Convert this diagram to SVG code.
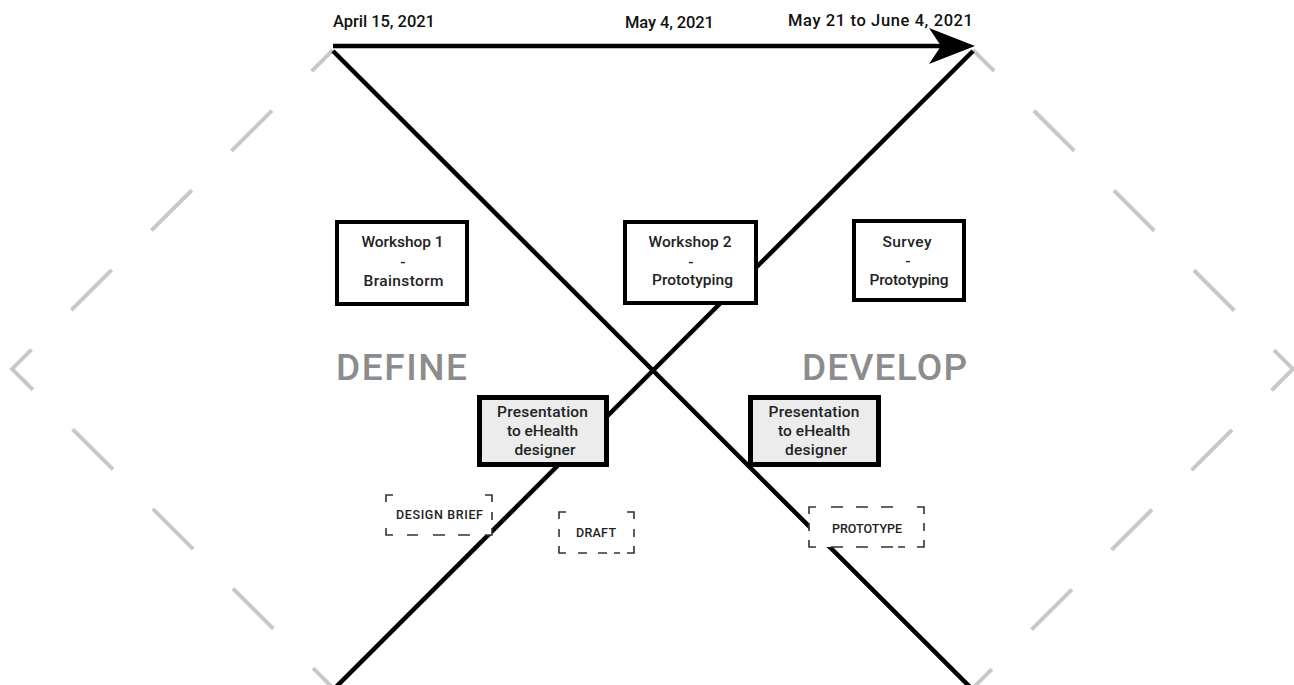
<svg xmlns="http://www.w3.org/2000/svg" width="1294" height="685" viewBox="0 0 1294 685">
<style>
.bg{fill:#ffffff}
.outer{fill:none;stroke:#c8c8c8;stroke-width:4;stroke-dasharray:57 56;stroke-dashoffset:27}
.xline{fill:none;stroke:#000;stroke-width:4.5}
.box{fill:#ffffff;stroke:#000;stroke-width:4}
.pbox{fill:#ececec;stroke:#000;stroke-width:5}
.dbox{fill:#ffffff;stroke:none}
.dash{fill:none;stroke:#333;stroke-width:1.6}
.t{font-family:Roboto,"Liberation Sans",Arial,sans-serif;font-weight:500;fill:#222;text-anchor:middle}
.date{font-family:Roboto,"Liberation Sans",Arial,sans-serif;font-weight:500;fill:#111;font-size:16.5px}
.phase{font-family:Roboto,"Liberation Sans",Arial,sans-serif;font-weight:500;fill:#8c8c8c;font-size:37px}
.lab{font-family:Roboto,"Liberation Sans",Arial,sans-serif;font-weight:500;fill:#222;font-size:12.5px;text-anchor:middle}
</style>
<defs>
<marker id="arrow" markerUnits="userSpaceOnUse" markerWidth="52" markerHeight="40" refX="12" refY="18" orient="auto">
<polygon points="46,18 0,0 12,18 0,36" fill="#000"/>
</marker>
</defs>
<rect class="bg" x="0" y="0" width="1294" height="685"/>

<g id="outline">
<path class="outer" d="M333,50 L12,369 L333,688"/>
<path class="outer" d="M973,50 L1293,369 L973,688"/>
</g>

<g id="connectors">
<line class="xline" x1="333" y1="51" x2="973" y2="690"/>
<line class="xline" x1="333" y1="690" x2="973" y2="51"/>
<line class="xline" x1="333" y1="46" x2="941" y2="46" marker-end="url(#arrow)"/>
</g>

<g id="dates">
<text class="date" x="333" y="27" textLength="102">April 15, 2021</text>
<text class="date" x="625" y="28" textLength="89">May 4, 2021</text>
<text class="date" x="788" y="26" textLength="185">May 21 to June 4, 2021</text>
</g>

<g id="phases">
<text class="phase" x="336" y="380" textLength="131">DEFINE</text>
<text class="phase" x="802" y="380" textLength="165">DEVELOP</text>
</g>

<g id="workshop1">
<rect class="box" x="337" y="222" width="130" height="82"/>
<text class="t" x="402.5" y="247" font-size="15.5" textLength="82">Workshop 1</text>
<text class="t" x="403" y="266.5" font-size="15.5">-</text>
<text class="t" x="403.5" y="286" font-size="15.5" textLength="80">Brainstorm</text>
</g>

<g id="workshop2">
<rect class="box" x="625" y="222" width="131" height="81"/>
<text class="t" x="690" y="247" font-size="15.5" textLength="83">Workshop 2</text>
<text class="t" x="691" y="266.5" font-size="15.5">-</text>
<text class="t" x="692.5" y="285" font-size="15.5" textLength="81">Prototyping</text>
</g>

<g id="survey">
<rect class="box" x="854" y="221" width="110" height="79"/>
<text class="t" x="907" y="247" font-size="15.5" textLength="49">Survey</text>
<text class="t" x="908" y="266" font-size="15.5">-</text>
<text class="t" x="909" y="285" font-size="15.5" textLength="79">Prototyping</text>
</g>

<g id="presentation1">
<rect class="pbox" x="479.5" y="397.5" width="127" height="67"/>
<text class="t" x="542.5" y="417" font-size="15.5" textLength="91">Presentation</text>
<text class="t" x="542.5" y="436" font-size="15.5" textLength="71">to eHealth</text>
<text class="t" x="545" y="455" font-size="15.5" textLength="61">designer</text>
</g>

<g id="presentation2">
<rect class="pbox" x="750.5" y="397.5" width="128" height="67"/>
<text class="t" x="814" y="417" font-size="15.5" textLength="91">Presentation</text>
<text class="t" x="814" y="436" font-size="15.5" textLength="72">to eHealth</text>
<text class="t" x="816" y="455" font-size="15.5" textLength="62">designer</text>
</g>

<g id="designbrief">
<rect class="dbox" x="386" y="495" width="106" height="40"/>
<path class="dash" d="M386,502 V495 H393 M485,495 H492 V502 M386,528 V535 H393 M485,535 H492 V528 M407,535 H418 M433,535 H445 M458,535 H470 M492,512 V520"/>
<text class="lab" x="439.5" y="519" textLength="87">DESIGN BRIEF</text>
</g>

<g id="draft">
<rect class="dbox" x="559" y="512" width="75" height="41"/>
<path class="dash" d="M559,519 V512 H566 M627,512 H634 V519 M559,546 V553 H566 M627,553 H634 V546 M559,529 V537 M634,529 V537 M578,553 H587 M598,553 H607 M614,553 H620"/>
<text class="lab" x="596" y="537" textLength="40">DRAFT</text>
</g>

<g id="prototype">
<rect class="dbox" x="809" y="507" width="115" height="40"/>
<path class="dash" d="M809,514 V507 H816 M917,507 H924 V514 M809,540 V547 H816 M917,547 H924 V540 M809,523 V531 M924,523 V531 M831,507 H843 M856,507 H868 M881,507 H893 M831,547 H843 M856,547 H868 M881,547 H893 M898,547 H905"/>
<text class="lab" x="867" y="533" textLength="70">PROTOTYPE</text>
</g>
</svg>
